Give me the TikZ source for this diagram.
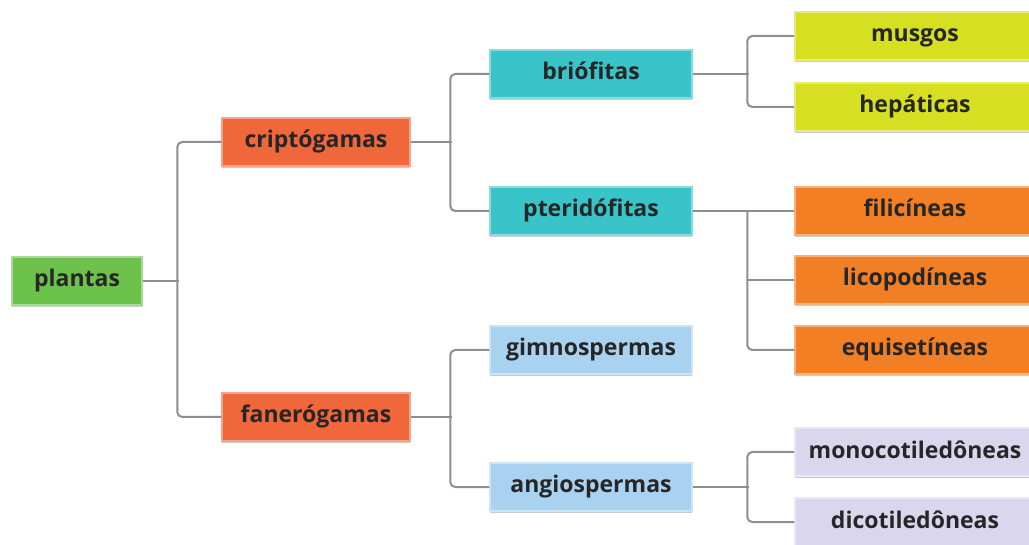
\documentclass[tikz,border=0pt]{standalone}
\usepackage{fontspec}
\setmainfont{Open Sans}
\usetikzlibrary{shadows}

\definecolor{verde}{HTML}{6CC24A}
\definecolor{vermelho}{HTML}{EF673A}
\definecolor{turquesa}{HTML}{38C4C8}
\definecolor{azul}{HTML}{A8D2F0}
\definecolor{amarelo}{HTML}{D6DF22}
\definecolor{laranja}{HTML}{F27F24}
\definecolor{lilas}{HTML}{DAD6EE}
\definecolor{linha}{HTML}{8E8E8E}

\begin{document}
\begin{tikzpicture}[x=1pt, y=-1pt,
    caixa/.style={rectangle, minimum height=48pt, text=black!85, inner sep=0pt,
        text height=17pt, text depth=5pt,
        font=\fontsize{23}{28}\selectfont\bfseries,
        drop shadow={shadow xshift=0pt, shadow yshift=-2pt, fill=black!35, opacity=0.6}},
    link/.style={draw=linha, line width=2pt, rounded corners=5pt}]
        \useasboundingbox (0,0) rectangle (1029,545);
        \clip (0,0) rectangle (1029,545);

        \node[caixa, fill=verde, draw=verde!60!white, line width=1.5pt, minimum width=130pt] (1) at (77,281) {plantas};

        \node[caixa, fill=vermelho, draw=vermelho!60!white, line width=1.5pt, minimum width=188pt] (2) at (316,142) {criptógamas};
        \node[caixa, fill=vermelho, draw=vermelho!60!white, line width=1.5pt, minimum width=188pt] (3) at (316,417) {fanerógamas};

        \node[caixa, fill=turquesa, draw=turquesa!60!white, line width=1.5pt, minimum width=202pt] (4) at (591,74) {briófitas};
        \node[caixa, fill=turquesa, draw=turquesa!60!white, line width=1.5pt, minimum width=202pt] (5) at (591,211) {pteridófitas};
        \node[caixa, fill=azul, draw=azul!60!white, line width=1.5pt, minimum width=202pt] (6) at (591,350) {gimnospermas};
        \node[caixa, fill=azul, draw=azul!60!white, line width=1.5pt, minimum width=202pt] (7) at (591,487) {angiospermas};

        \node[caixa, fill=amarelo, draw=amarelo!60!white, line width=1.5pt, minimum width=240pt] (8) at (915,36) {musgos};
        \node[caixa, fill=amarelo, draw=amarelo!60!white, line width=1.5pt, minimum width=240pt] (9) at (915,107) {hepáticas};
        \node[caixa, fill=laranja, draw=laranja!60!white, line width=1.5pt, minimum width=240pt] (10) at (915,211) {filicíneas};
        \node[caixa, fill=laranja, draw=laranja!60!white, line width=1.5pt, minimum width=240pt] (11) at (915,280) {licopodíneas};
        \node[caixa, fill=laranja, draw=laranja!60!white, line width=1.5pt, minimum width=240pt] (12) at (915,350) {equisetíneas};
        \node[caixa, fill=lilas, draw=lilas!60!white, line width=1.5pt, minimum width=240pt] (13) at (915,452) {monocotiledôneas};
        \node[caixa, fill=lilas, draw=lilas!60!white, line width=1.5pt, minimum width=240pt] (14) at (915,522) {dicotiledôneas};

        % chaves
        \path[link] (1.east) -- ++(36,0);
        \path[link] (2.west) -- ++(-44,0) |- (3.west);
        \path[link] (2.east) -- ++(41,0);
        \path[link] (4.west) -- ++(-39,0) |- (5.west);
        \path[link] (3.east) -- ++(41,0);
        \path[link] (6.west) -- ++(-39,0) |- (7.west);
        \path[link] (4.east) -- ++(56,0);
        \path[link] (8.west) -- ++(-47,0) |- (9.west);
        \path[link] (5.east) -- (10.west);
        \path[link] (10.west) ++(-47,0) |- (12.west);
        \path[link] (11.west) -- ++(-47,0);
        \path[link] (7.east) -- ++(56,0);
        \path[link] (13.west) -- ++(-47,0) |- (14.west);
    \end{tikzpicture}
\end{document}
